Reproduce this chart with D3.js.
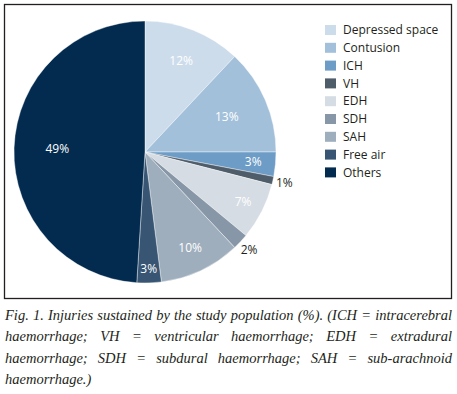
<!DOCTYPE html>
<html>
<head>
<meta charset="utf-8">
<script src="https://cdn.jsdelivr.net/npm/d3@7"></script>
<style>
  body { margin: 0; background: #fff; }
  svg { display: block; }
</style>
</head>
<body>
<svg width="457" height="394"></svg>
<script>
// данные диаграммы
const categories = ["Depressed space", "Contusion", "ICH", "VH", "EDH", "SDH", "SAH", "Free air", "Others"];
const values = [12, 13, 3, 1, 7, 2, 10, 3, 49];
const colors = ["#cddceb", "#a3c0db", "#6d9cc6", "#4f5d6b", "#d5dce3", "#8797a7", "#9eaebc", "#385673", "#032b4f"];
const captionLines = [
  "Fig. 1. Injuries sustained by the study population (%). (ICH = intracerebral",
  "haemorrhage; VH = ventricular haemorrhage; EDH = extradural",
  "haemorrhage; SDH = subdural haemorrhage; SAH = sub-arachnoid",
  "haemorrhage.)"
];

// радиус подписи (доля от радиуса), подписи снаружи для маленьких секторов
const labelR = [0.75, 0.68, 0.83, 1.09, 0.84, 1.09, 0.81, 0.89, 0.67];

const svg = d3.select("svg");
const attr_area = { cx: 145, cy: 152, r: 131 };

// рамка
svg.append("rect")
   .attr("x", 4.5).attr("y", 4.5)
   .attr("width", 447).attr("height", 294)
   .attr("fill", "none")
   .attr("stroke", "#231f20")
   .attr("stroke-width", 1.3);

const pie = d3.pie().sort(null).value(d => d);
const arcs = pie(values);
const arc = d3.arc().innerRadius(0).outerRadius(attr_area.r);

const g = svg.append("g")
   .attr("transform", `translate(${attr_area.cx}, ${attr_area.cy})`);

g.selectAll("path")
  .data(arcs)
  .enter()
  .append("path")
  .attr("d", arc)
  .attr("fill", (d, i) => colors[i])
  .attr("stroke", "#fff")
  .attr("stroke-width", 0.4);

// подписи процентов
g.selectAll("text")
  .data(arcs)
  .enter()
  .append("text")
  .attr("transform", (d, i) => {
      const a = (d.startAngle + d.endAngle) / 2;
      const rr = attr_area.r * labelR[i];
      return `translate(${rr * Math.sin(a)}, ${-rr * Math.cos(a)})`;
  })
  .attr("text-anchor", "middle")
  .attr("dy", "0.35em")
  .style("font-family", "'Open Sans', sans-serif")
  .style("font-size", "12px")
  .style("fill", (d, i) => labelR[i] > 1 ? "#231f20" : "#fff")
  .text(d => d.data + "%");

// легенда
const legend = svg.append("g").attr("transform", "translate(325, 30)");
const item = legend.selectAll("g")
  .data(categories)
  .enter()
  .append("g")
  .attr("transform", (d, i) => `translate(0, ${i * 17.8})`);

item.append("rect")
  .attr("x", 0).attr("y", -5)
  .attr("width", 11).attr("height", 10)
  .attr("fill", (d, i) => colors[i]);

item.append("text")
  .attr("x", 18)
  .attr("dy", "0.35em")
  .style("font-family", "'Open Sans', sans-serif")
  .style("font-size", "12px")
  .style("fill", "#231f20")
  .text(d => d);

// подпись рисунка, выравнивание по ширине
const capLeft = 5, capRight = 452;
captionLines.forEach((line, li) => {
  const y = 320 + li * 21.3;
  const words = line.split(" ");
  const t = svg.append("text")
     .attr("y", y)
     .style("font-family", "'Liberation Serif', serif")
     .style("font-style", "italic")
     .style("font-size", "14.5px")
     .style("fill", "#231f20");
  const spans = words.map(w => t.append("tspan").text(w));
  const widths = spans.map(s => s.node().getComputedTextLength());
  const total = d3.sum(widths);
  const last = li === captionLines.length - 1;
  const gap = last ? 4 : (capRight - capLeft - total) / (words.length - 1);
  let x = capLeft;
  spans.forEach((s, i) => {
     s.attr("x", x);
     x += widths[i] + gap;
  });
});
</script>
</body>
</html>
